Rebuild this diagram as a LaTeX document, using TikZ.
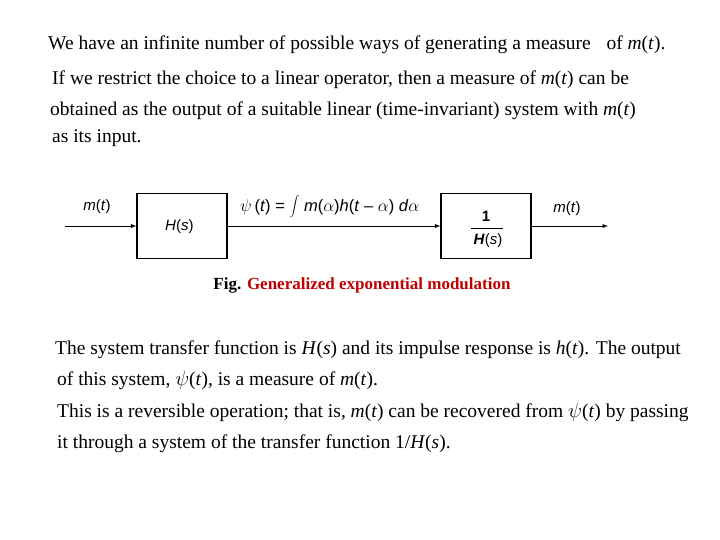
\documentclass[tikz,border=0pt]{standalone}
\usepackage{fontspec}
\setmainfont{Liberation Serif}
\newfontfamily\sansf{Liberation Sans}
\newcommand{\mt}[1]{\textit{#1}}
\begin{document}
\begin{tikzpicture}[x=1pt,y=-1pt,
  txt/.style={anchor=west,inner sep=0pt,font=\fontsize{19.5}{22}\selectfont},
  blk/.style={draw,line width=1.3pt,minimum width=90pt,minimum height=65pt,inner sep=0pt},
  lbl/.style={inner sep=0pt,font=\sansf\fontsize{15}{17}\selectfont},
  sig/.style={line width=0.9pt}]
\useasboundingbox (0,0) rectangle (720,540);
\fill[white] (0,0) rectangle (720,540);
\node[txt] (t1) at (48,45) {We have an infinite number of possible ways of generating a measure\;\; of \mt{m}(\mt{t}).};
\node[txt] (t2) at (52,80) {If we restrict the choice to a linear operator, then a measure of \mt{m}(\mt{t}) can be};
\node[txt] (t3) at (50,111) {obtained as the output of a suitable linear (time-invariant) system with \mt{m}(\mt{t})};
\node[txt] (t4) at (52,138) {as its input.};
\node[blk] (h) at (182,226) {};
\node[lbl,anchor=west] at (165,227) {\textit{H}(\textit{s})};
\node[blk] (g) at (486,226) {};
\node[lbl] at (486,216) {\textbf{1}};
\draw[line width=0.8pt] (471,228) -- (503,228);
\node[lbl] at (488,241) {\textit{\textbf{H}}(\textit{s})};
\coordinate (in) at (65,226);
\coordinate (out) at (608,226);
\draw[sig,-latex] (in) -- (h.west);
\draw[sig,-latex] (h.east) -- (g.west);
\draw[sig,-latex] (g.east) -- (out);
\node[lbl] (min) at (97,207) {\textit{m}(\textit{t})};
\node[lbl] (mout) at (567,209) {\textit{m}(\textit{t})};
\node[lbl,anchor=west,font=\sansf\fontsize{16.5}{18}\selectfont] (psi) at (240,207) {$\psi$\,(\textit{t}) = $\displaystyle\int$ \textit{m}($\alpha$)\textit{h}(\textit{t} \textendash\ $\alpha$) \textit{d}$\alpha$};
\node[inner sep=0pt,font=\fontsize{17}{20}\selectfont\bfseries] (cap) at (362,285) {Fig. \textcolor[HTML]{C00000}{Generalized exponential modulation}};
\node[txt] (b1) at (55,350) {The system transfer function is \mt{H}(\mt{s}) and its impulse response is \mt{h}(\mt{t}). The output};
\node[txt] (b2) at (57,380) {of this system, $\psi$(\mt{t}), is a measure of \mt{m}(\mt{t}).};
\node[txt] (b3) at (57,412) {This is a reversible operation; that is, \mt{m}(\mt{t}) can be recovered from $\psi$(\mt{t}) by passing};
\node[txt] (b4) at (57,444) {it through a system of the transfer function 1/\mt{H}(\mt{s}).};
\end{tikzpicture}
\end{document}
